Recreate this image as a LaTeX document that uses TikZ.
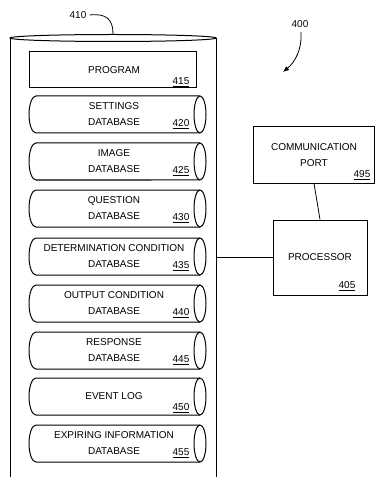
\documentclass[tikz,border=0pt]{standalone}
\usepackage{fontspec}
\setmainfont{Liberation Sans}
\usetikzlibrary{arrows.meta}
\tikzset{
  lbl/.style={font=\fontsize{10bp}{16bp}\selectfont, inner sep=0pt, align=center},
  ref/.style={font=\fontsize{10bp}{12bp}\selectfont, inner sep=0pt},
  outl/.style={draw=black, line width=1bp},
  boxn/.style={outl, fill=white, inner sep=0pt},
  conn/.style={draw=black, line width=0.8bp},
}
% \dbcyl{name}{top}{text}{number}{numdy}
\newcommand{\dbcyl}[5]{%
  \pgfmathsetmacro{\tp}{#2}\pgfmathsetmacro{\bt}{#2+37}\pgfmathsetmacro{\md}{#2+18.5}%
  \path[outl, fill=white] (36,\tp) -- (200,\tp) arc[start angle=-90, end angle=90, x radius=6, y radius=18.5] -- (36,\bt) arc[start angle=90, end angle=270, x radius=7, y radius=18.5] -- cycle;
  \draw[outl] (200,\tp) arc[start angle=270, end angle=90, x radius=6, y radius=18.5];
  \node[lbl, minimum width=170bp, minimum height=37bp] (#1) at (114,\md) {#3};
  \node[ref] (#1n) at (181,\md+#5) {\underline{#4}};
}
\begin{document}
\begin{tikzpicture}[x=1bp,y=-1bp]
\useasboundingbox (0,0) rectangle (376,477);
% large cylinder 410
\draw[outl] (10,477) -- (10,38);
\draw[outl] (216,38) -- (216,477);
\draw[outl] (113,38) ellipse[x radius=103, y radius=3.5];
\node[ref] (l410) at (78,15) {410};
\coordinate (c410) at (113,34);
\draw[conn] (l410.east) ++(3,0) .. controls (107,13) and (113,20) .. (c410);
% program
\node[boxn, minimum width=166bp, minimum height=36bp] (p415) at (113,70) {};
\node[lbl] (p415t) at (114,70) {PROGRAM};
\node[ref] (p415n) at (181,82) {\underline{415}};
% databases
\dbcyl{d420}{96}{SETTINGS\\DATABASE}{420}{10}
\dbcyl{d425}{143}{IMAGE\\DATABASE}{425}{10}
\dbcyl{d430}{190}{QUESTION\\DATABASE}{430}{10}
\dbcyl{d435}{238}{DETERMINATION CONDITION\\DATABASE}{435}{10}
\dbcyl{d440}{285}{OUTPUT CONDITION\\DATABASE}{440}{10}
\dbcyl{d445}{332}{RESPONSE\\DATABASE}{445}{10}
\dbcyl{d450}{378}{EVENT LOG}{450}{12}
\dbcyl{d455}{425}{EXPIRING INFORMATION\\DATABASE}{455}{10}
% communication port and processor
\node[boxn, minimum width=121bp, minimum height=56bp] (c495) at (314,155) {};
\node[lbl] (c495t) at (314,155) {COMMUNICATION\\PORT};
\node[ref] (c495n) at (362,175) {\underline{495}};
\node[boxn, minimum width=94bp, minimum height=75bp] (p405) at (320,257.5) {};
\node[lbl] (p405t) at (320,257) {PROCESSOR};
\node[ref] (p405n) at (347,286) {\underline{405}};
\coordinate (cylR) at (216,257);
\draw[conn] (c495.south) -- (p405.north);
\draw[conn] (cylR) -- (p405.west |- cylR);
% 400
\node[ref] (l400) at (300,24) {400};
\coordinate (a400) at (283,72);
\draw[conn, -{Latex[length=6bp,width=5bp]}] (301,32) .. controls (302,50) and (295,62) .. (a400);
\end{tikzpicture}
\end{document}
